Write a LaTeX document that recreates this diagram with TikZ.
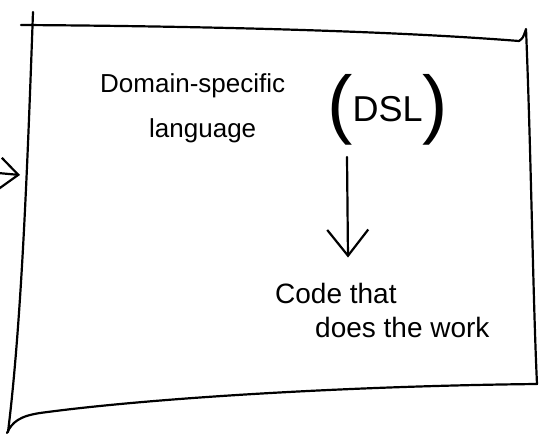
\documentclass[tikz,border=0pt]{standalone}
\usepackage{fontspec}
\setmainfont{Liberation Sans}
\usetikzlibrary{arrows.meta,positioning,calc}

\begin{document}
\begin{tikzpicture}[
  x=1pt, y=-1pt,
  pen/.style={line width=2.2pt, line cap=round, line join=round},
  flow/.style={pen, -{Straight Barb[length=26pt, width=41pt, line width=2.2pt]}},
  entry/.style={pen, -{Straight Barb[length=18pt, width=31pt, line width=2.2pt]}},
  hand/.style={inner sep=0pt, anchor=base west, font=\fontsize{26}{30}\selectfont},
  handbig/.style={hand, font=\fontsize{28}{32}\selectfont}
]
\useasboundingbox (0,0) rectangle (540,435);

% the sketched frame
\draw[pen] (33,12) .. controls (28,150) and (22,320) .. (8,432);
\draw[pen] (21,25) .. controls (180,26) and (380,30) .. (519,41)
  .. controls (523,38) .. (526,29)
  .. controls (531,150) and (533,300) .. (537,384)
  .. controls (350,386) and (150,398) .. (40,413)
  .. controls (20,416) and (12,422) .. (7,433);

% arrow coming in from the left
\coordinate (from) at (-2,173);
\coordinate (edge) at (20,175);
\draw[entry] (from) -- (edge);

% texts
\node[hand] (dom) at (100,93) {Domain-specific};
\node[hand] (lang) at (149,138) {language};
\node[hand] (dsl) at (327,130)
  {{\fontsize{76}{76}\selectfont(}\raisebox{8pt}{\fontsize{36}{36}\selectfont DSL}{\fontsize{76}{76}\selectfont)}};

\node[handbig] (code) at (275,303) {Code that};
\node[handbig] (work) at (315,337) {does the work};

\draw[flow] ([shift={(20pt,-11pt)}]dsl.south west) -- ([shift={(73pt,25pt)}]code.north west);

\end{tikzpicture}
\end{document}
